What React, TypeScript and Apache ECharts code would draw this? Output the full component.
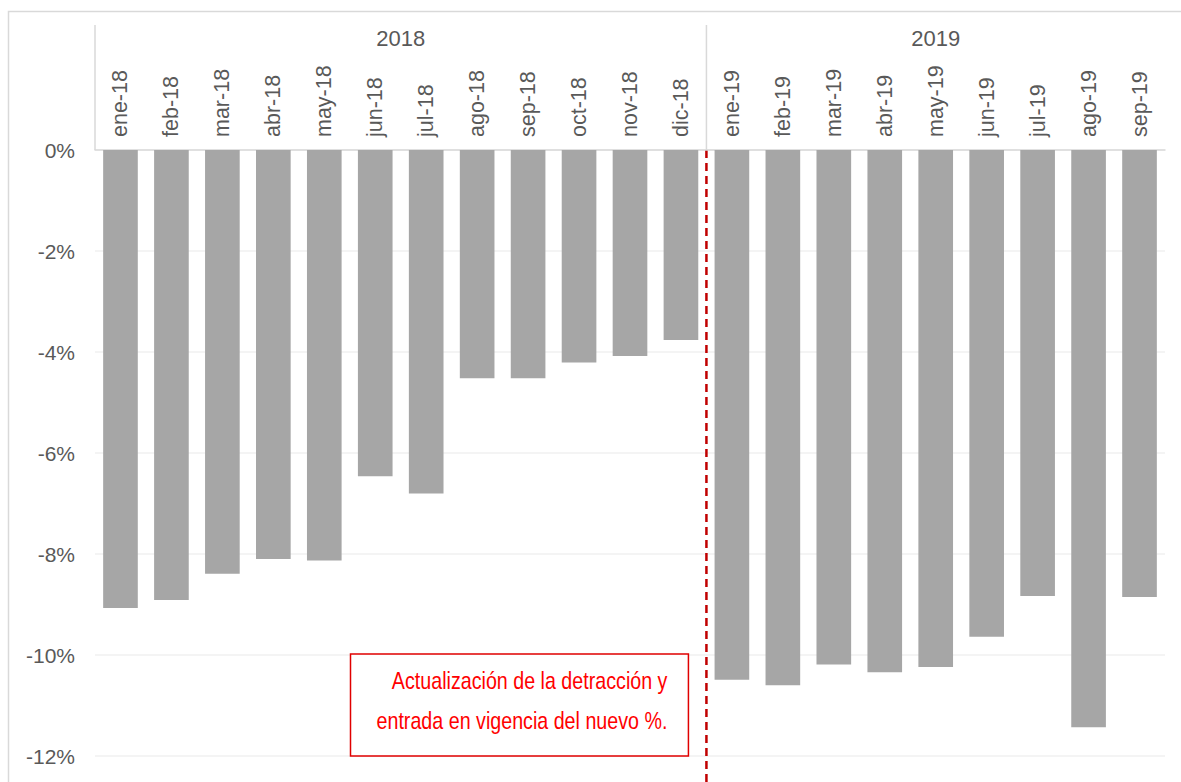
import React, { useEffect, useRef } from "react";
import * as echarts from "echarts";

const categories = [
  "ene-18", "feb-18", "mar-18", "abr-18", "may-18", "jun-18", "jul-18", "ago-18", "sep-18", "oct-18", "nov-18", "dic-18",
  "ene-19", "feb-19", "mar-19", "abr-19", "may-19", "jun-19", "jul-19", "ago-19", "sep-19",
];
const values = [
  -9.07, -8.91, -8.39, -8.1, -8.13, -6.46, -6.8, -4.52, -4.52, -4.21, -4.08, -3.76,
  -10.49, -10.6, -10.19, -10.34, -10.24, -9.64, -8.83, -11.43, -8.85,
];
const yearLabels = ["2018", "2019"];
const yearStarts = [0, 12];
const yearEnds = [11, 20];
const annotationText = "Actualización de la detracción y\nentrada en vigencia del nuevo %.";

const FONT = "'Liberation Sans', Arial, sans-serif";

export default function App() {
  const ref = useRef<HTMLDivElement>(null);
  useEffect(() => {
    const chart = echarts.init(ref.current!, null, { renderer: "svg" });
    chart.setOption({
      animation: false,
      grid: { left: 95, right: 16, top: 150, bottom: 26, containLabel: false },
      xAxis: {
        type: "category",
        position: "top",
        data: categories,
        axisTick: { show: false },
        axisLine: { show: true, lineStyle: { color: "#D9D9D9", width: 1.5 } },
        axisLabel: { rotate: 90, margin: 13, fontSize: 21.5, color: "#595959", fontFamily: FONT, interval: 0 },
      },
      yAxis: {
        type: "value",
        min: -12,
        max: 0,
        interval: 2,
        axisLine: { show: false },
        axisTick: { show: false },
        axisLabel: { formatter: "{value}%", fontSize: 21, color: "#595959", fontFamily: FONT, margin: 20 },
        splitLine: { lineStyle: { color: "#F0F0F0", width: 1.5 } },
      },
      series: [
        {
          type: "bar",
          data: values,
          barWidth: "68%",
          itemStyle: { color: "#A6A6A6" },
        },
      ],
    });

    const c0 = chart.convertToPixel({ xAxisIndex: 0 }, 0) as number;
    const c1 = chart.convertToPixel({ xAxisIndex: 0 }, 1) as number;
    const bw = c1 - c0;
    const edge = (i: number) => (chart.convertToPixel({ xAxisIndex: 0 }, i) as number) - bw / 2;
    const y0 = chart.convertToPixel({ yAxisIndex: 0 }, 0) as number;
    const y10 = chart.convertToPixel({ yAxisIndex: 0 }, -10) as number;
    const y12 = chart.convertToPixel({ yAxisIndex: 0 }, -12) as number;
    const divider = edge(yearStarts[1]);

    const graphics: any[] = [
      {
        type: "rect",
        shape: { x: 8.5, y: 11.5, width: 1300, height: 900 },
        style: { fill: "none", stroke: "#D9D9D9", lineWidth: 1.5 },
        silent: true,
      },
    ];
    yearLabels.forEach((lab, k) => {
      const xs = edge(yearStarts[k]);
      const xe = edge(yearEnds[k] + 1);
      graphics.push({
        type: "line",
        shape: { x1: xs, y1: 25, x2: xs, y2: y0 },
        style: { stroke: "#D9D9D9", lineWidth: 1.5 },
      });
      graphics.push({
        type: "text",
        x: (xs + xe) / 2,
        y: 38,
        style: { text: lab, fill: "#595959", fontSize: 22, fontFamily: FONT, align: "center", verticalAlign: "middle" },
      });
    });
    graphics.push({
      type: "line",
      shape: { x1: divider, y1: y0, x2: divider, y2: 800 },
      style: { stroke: "#C00000", lineWidth: 2.5, lineDash: [8, 5] },
    });
    const boxRight = divider - 18;
    const boxLeft = 350.5;
    graphics.push({
      type: "rect",
      shape: { x: boxLeft, y: y10 - 1, width: boxRight - boxLeft, height: y12 - y10 + 1 },
      style: { fill: "#FFFFFF", stroke: "#E00000", lineWidth: 1.5 },
    });
    graphics.push({
      type: "text",
      x: boxRight - 21,
      y: (y10 + y12) / 2 - 5,
      scaleX: 0.82,
      style: {
        text: annotationText,
        fill: "#FF0000",
        fontSize: 24,
        lineHeight: 40,
        fontFamily: FONT,
        align: "right",
        verticalAlign: "middle",
      },
    });
    chart.setOption({ graphic: graphics });

    return () => chart.dispose();
  }, []);
  return <div ref={ref} style={{ position: "absolute", left: 0, top: 0, width: 1181, height: 782 }} />;
}
